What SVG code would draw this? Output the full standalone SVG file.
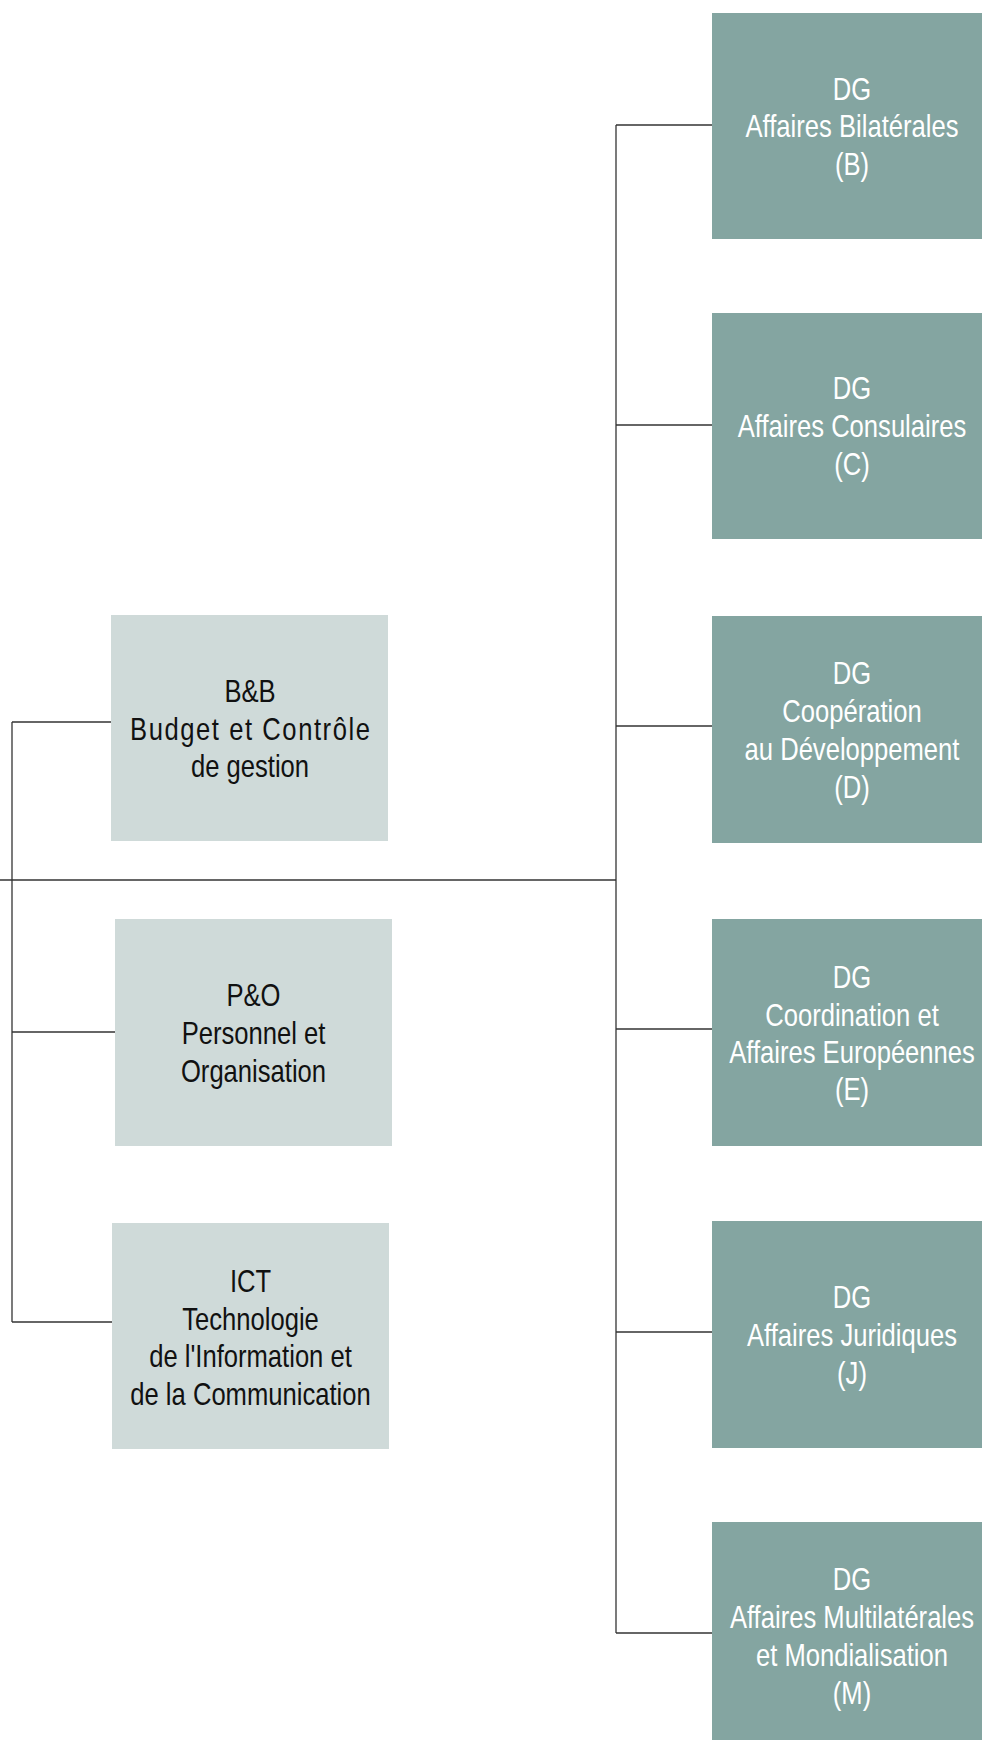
<svg xmlns="http://www.w3.org/2000/svg" width="982" height="1740" viewBox="0 0 982 1740">
<style>
.dg{fill:#84a5a1}
.sv{fill:#cfdad9}
.t{font-family:"Liberation Sans",Arial,sans-serif;font-size:32px;text-anchor:middle}
.tw{fill:#ffffff}
.tb{fill:#111111}
.ln{stroke:#333333;stroke-width:1.3;fill:none}
</style>
<rect width="982" height="1740" fill="#ffffff"/>
<g id="connectors">
<line class="ln" x1="0" y1="880" x2="616" y2="880"/>
<line class="ln" x1="616" y1="125" x2="616" y2="1633"/>
<line class="ln" x1="616" y1="125" x2="712" y2="125"/>
<line class="ln" x1="616" y1="425" x2="712" y2="425"/>
<line class="ln" x1="616" y1="726" x2="712" y2="726"/>
<line class="ln" x1="616" y1="1029" x2="712" y2="1029"/>
<line class="ln" x1="616" y1="1332" x2="712" y2="1332"/>
<line class="ln" x1="616" y1="1633" x2="712" y2="1633"/>
<line class="ln" x1="12" y1="722" x2="12" y2="1322"/>
<line class="ln" x1="12" y1="722" x2="111" y2="722"/>
<line class="ln" x1="12" y1="1032" x2="115" y2="1032"/>
<line class="ln" x1="12" y1="1322" x2="112" y2="1322"/>
</g>
<g id="dg-b">
<rect class="dg" x="712" y="13" width="280" height="226"/>
<text class="t tw" transform="matrix(0.8 0 0 1 852 0)"><tspan x="0" y="100">DG</tspan><tspan x="0" y="137">Affaires Bilatérales</tspan><tspan x="0" y="175">(B)</tspan></text>
</g>
<g id="dg-c">
<rect class="dg" x="712" y="313" width="280" height="226"/>
<text class="t tw" transform="matrix(0.8 0 0 1 852 0)"><tspan x="0" y="399">DG</tspan><tspan x="0" y="437">Affaires Consulaires</tspan><tspan x="0" y="475">(C)</tspan></text>
</g>
<g id="dg-d">
<rect class="dg" x="712" y="616" width="280" height="227"/>
<text class="t tw" transform="matrix(0.8 0 0 1 852 0)"><tspan x="0" y="684">DG</tspan><tspan x="0" y="722">Coopération</tspan><tspan x="0" y="760">au Développement</tspan><tspan x="0" y="798">(D)</tspan></text>
</g>
<g id="dg-e">
<rect class="dg" x="712" y="919" width="280" height="227"/>
<text class="t tw" transform="matrix(0.8 0 0 1 852 0)"><tspan x="0" y="988">DG</tspan><tspan x="0" y="1026">Coordination et</tspan><tspan x="0" y="1063">Affaires Européennes</tspan><tspan x="0" y="1100">(E)</tspan></text>
</g>
<g id="dg-j">
<rect class="dg" x="712" y="1221" width="280" height="227"/>
<text class="t tw" transform="matrix(0.8 0 0 1 852 0)"><tspan x="0" y="1308">DG</tspan><tspan x="0" y="1346">Affaires Juridiques</tspan><tspan x="0" y="1384">(J)</tspan></text>
</g>
<g id="dg-m">
<rect class="dg" x="712" y="1522" width="280" height="226"/>
<text class="t tw" transform="matrix(0.8 0 0 1 852 0)"><tspan x="0" y="1590">DG</tspan><tspan x="0" y="1628">Affaires Multilatérales</tspan><tspan x="0" y="1666">et Mondialisation</tspan><tspan x="0" y="1704">(M)</tspan></text>
</g>
<g id="bb">
<rect class="sv" x="111" y="615" width="277" height="226"/>
<text class="t tb" transform="matrix(0.8 0 0 1 250 0)"><tspan x="0" y="702">B&amp;B</tspan></text>
<text class="t tb" transform="matrix(0.8 0 0 1 250 0)"><tspan x="0" y="740" textLength="300" lengthAdjust="spacing">Budget et Contrôle</tspan></text>
<text class="t tb" transform="matrix(0.8 0 0 1 250 0)"><tspan x="0" y="777">de gestion</tspan></text>
</g>
<g id="po">
<rect class="sv" x="115" y="919" width="277" height="227"/>
<text class="t tb" transform="matrix(0.8 0 0 1 253.5 0)"><tspan x="0" y="1006">P&amp;O</tspan><tspan x="0" y="1044">Personnel et</tspan><tspan x="0" y="1082">Organisation</tspan></text>
</g>
<g id="ict">
<rect class="sv" x="112" y="1223" width="277" height="226"/>
<text class="t tb" transform="matrix(0.8 0 0 1 250.5 0)"><tspan x="0" y="1292">ICT</tspan><tspan x="0" y="1330">Technologie</tspan><tspan x="0" y="1367">de l'Information et</tspan><tspan x="0" y="1405">de la Communication</tspan></text>
</g>
</svg>
